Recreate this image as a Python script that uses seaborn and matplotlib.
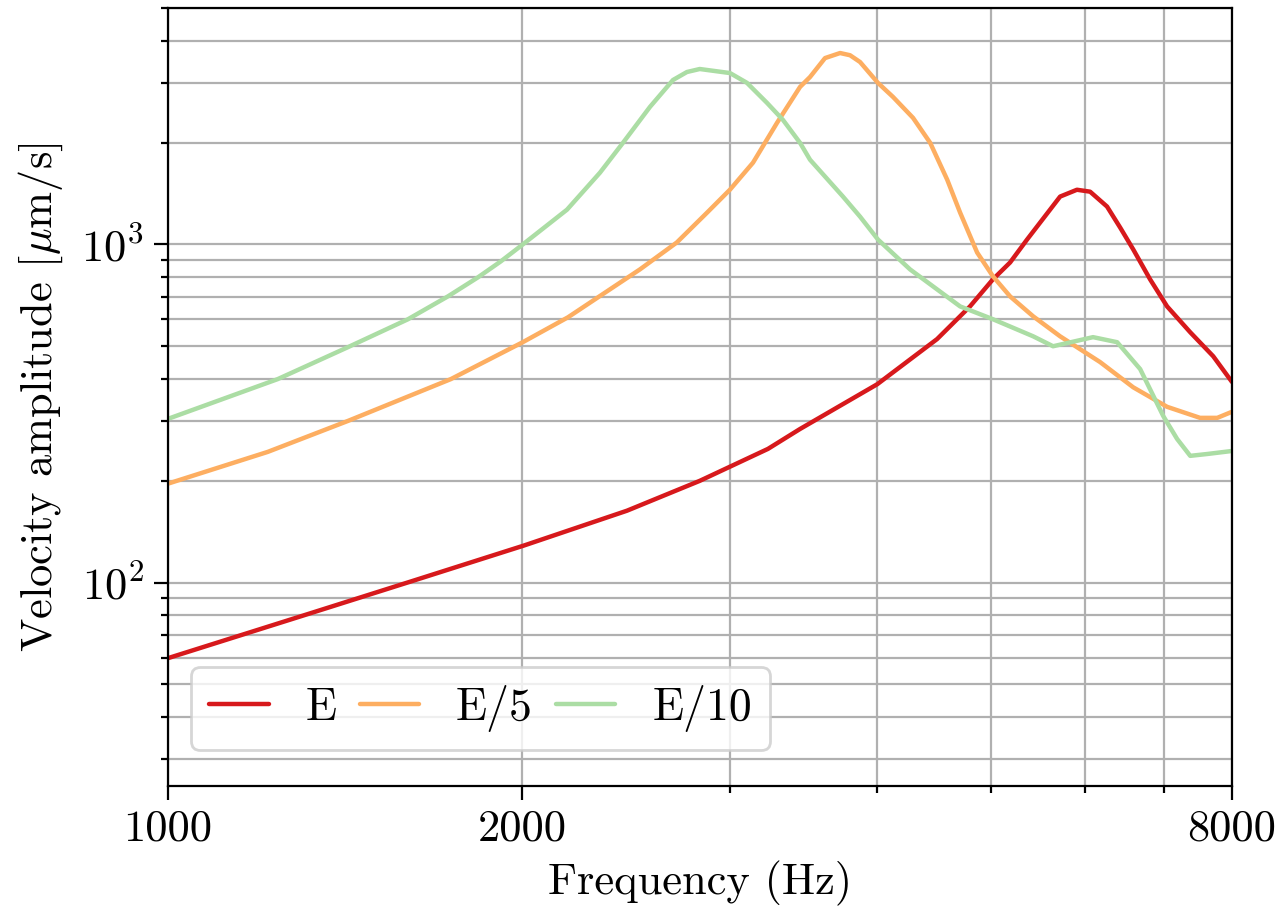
import numpy as np
import pandas as pd
import seaborn as sns
import matplotlib.pyplot as plt
from matplotlib.ticker import NullFormatter, LogLocator

# Velocity amplitude (Hz, um/s)
red_freq = [1000, 1320, 1608, 2005, 2453, 2828, 3231, 3440, 4000, 4496, 4795, 5015, 5186,
            5360, 5718, 5909, 6063, 6267, 6430, 6596, 6818, 7047, 7373, 7712, 8000]
red_amp = [59.7, 81.0, 100.7, 128.6, 163.1, 199.9, 248.5, 284.6, 386, 525, 656, 789, 885,
           1034, 1386, 1452, 1433, 1295, 1122, 967, 788, 656, 550, 467, 392]

orange_freq = [1000, 1216, 1422, 1739, 2001, 2186, 2516, 2704, 2869, 3000, 3138, 3289, 3440,
               3508, 3612, 3720, 3793, 3868, 4006, 4125, 4290, 4436, 4586, 4703, 4862, 5015,
               5186, 5425, 5718, 6182, 6596, 7047, 7516, 7773, 8000]
orange_amp = [196, 243.5, 300.6, 399.8, 513.9, 609, 844, 1014, 1243, 1453, 1746, 2291, 2925,
              3130, 3560, 3685, 3630, 3466, 3006, 2733, 2369, 1999, 1555, 1243, 947, 805,
              702, 613, 535, 449, 378, 331, 307, 307, 320]

green_freq = [1000, 1240, 1422, 1599, 1729, 1833, 1917, 2001, 2182, 2327, 2434, 2566, 2684,
              2758, 2828, 3000, 3101, 3225, 3327, 3440, 3508, 3741, 3868, 4006, 4265, 4703,
              5015, 5425, 5640, 6098, 6392, 6686, 6994, 7186, 7373, 7621, 8000]
green_amp = [304.7, 399.8, 496.8, 600.9, 702.3, 799.1, 891.2, 1000, 1268, 1631, 1999, 2554,
             3067, 3238, 3305, 3215, 3008, 2624, 2337, 1999, 1781, 1386, 1209, 1034, 844, 656,
             601, 535, 500, 532, 514, 428, 311, 266, 237, 240, 245]

labels = ['E', 'E/5', 'E/10']
colors = ['#d7191c', '#fdae61', '#abdda4']

df = pd.concat([
    pd.DataFrame({'freq': red_freq, 'amp': red_amp, 'case': labels[0]}),
    pd.DataFrame({'freq': orange_freq, 'amp': orange_amp, 'case': labels[1]}),
    pd.DataFrame({'freq': green_freq, 'amp': green_amp, 'case': labels[2]}),
])

sns.set_style('ticks')
plt.rcParams['font.family'] = ['cmr10', 'DejaVu Serif']
plt.rcParams['mathtext.fontset'] = 'cm'
plt.rcParams['axes.formatter.use_mathtext'] = True
plt.rcParams['font.size'] = 16
plt.rcParams['text.color'] = 'black'
plt.rcParams['axes.labelcolor'] = 'black'

fig, ax = plt.subplots(figsize=(6.4, 4.57), dpi=200)
fig.subplots_adjust(left=0.131, right=0.9625, top=0.991, bottom=0.14)

sns.lineplot(data=df, x='freq', y='amp', hue='case', palette=colors,
             lw=1.6, sort=False, ax=ax)

ax.set_xscale('log')
ax.set_yscale('log')
ax.set_xlim(1000, 8000)
ax.set_ylim(25, 5000)

ax.set_xticks([1000, 2000, 8000], labels=['1000', '2000', '8000'])
ax.xaxis.set_minor_locator(LogLocator(base=10, subs=np.arange(2, 10)))
ax.xaxis.set_minor_formatter(NullFormatter())
ax.yaxis.set_minor_formatter(NullFormatter())

ax.tick_params(which='major', length=5, width=0.8, labelsize=16, colors='black')
ax.tick_params(which='minor', length=2.6, width=0.8, colors='black')
ax.grid(True, which='both', color='#b0b0b0', lw=0.8)
for s in ax.spines.values():
    s.set_color('black')
    s.set_linewidth(0.8)

ax.set_xlabel('Frequency (Hz)', fontsize=16, labelpad=4)
ax.set_ylabel(r'Velocity amplitude [$\mu$m/s]', fontsize=16, labelpad=6)

ax.legend(ncol=3, loc='lower left', bbox_to_anchor=(0.022, 0.046), borderaxespad=0,
          handlelength=1.3, handletextpad=0.8, columnspacing=0.5, fontsize=16.5,
          framealpha=0.8, edgecolor='#cccccc', fancybox=True)

plt.savefig('out.png', dpi=200)
